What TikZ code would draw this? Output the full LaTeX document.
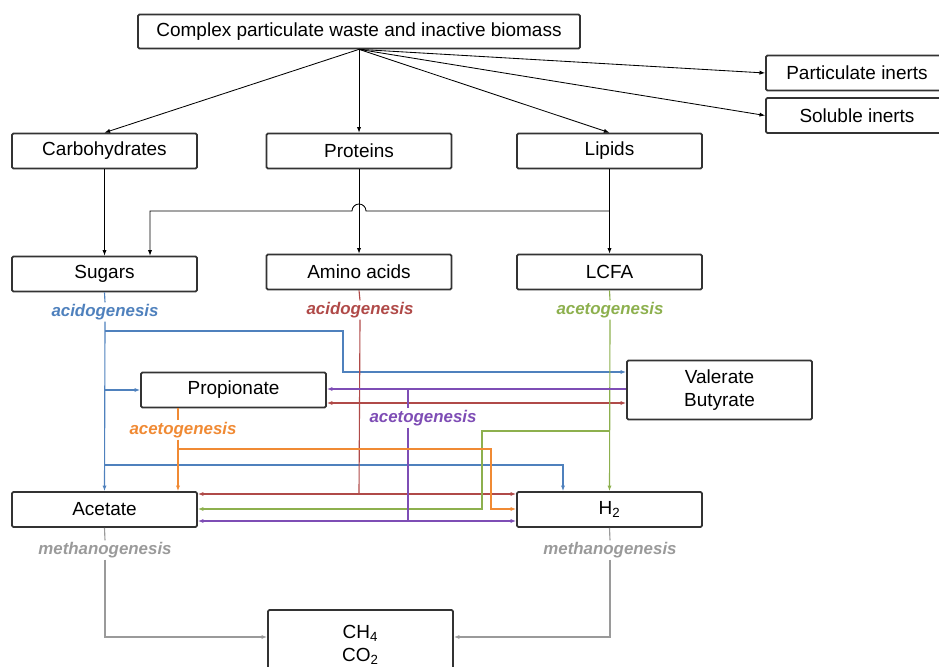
\documentclass[tikz,border=0pt]{standalone}
\usepackage{fontspec}
\setmainfont{Liberation Sans}
\usetikzlibrary{arrows.meta,positioning,calc}

\definecolor{cblue}{HTML}{4F81BD}
\definecolor{cred}{HTML}{B04A48}
\definecolor{cgreen}{HTML}{8DB04E}
\definecolor{corange}{HTML}{F08A34}
\definecolor{cpurple}{HTML}{7E4DB5}
\definecolor{cgray}{HTML}{9A9A9A}

\begin{document}
\begin{tikzpicture}[x=0.025cm, y=-0.025cm,
    box/.style = {draw = black!80, line width = 1.2pt, rounded corners = 1pt, fill = white,
                  minimum width = 4.625cm, minimum height = 0.875cm,
                  inner sep = 2pt, font = \fontsize{13.5}{16}\selectfont},
    blk/.style = {-{Latex[length=4pt,width=3pt]}, line width = 0.6pt},
    flow/.style = {-{Latex[length=4pt,width=3pt]}},
    lbl/.style = {inner sep = 1pt, font = \fontsize{12}{14}\selectfont\bfseries\itshape}]

        \useasboundingbox (0,0) rectangle (939,666);

        % Boxes
        \node[box, minimum width = 11.05cm, minimum height = 0.85cm] (cpw) at (359,31.5) {Complex particulate waste and inactive biomass};
        \node[box, minimum width = 4.55cm] (pinert) at (857,73) {Particulate inerts};
        \node[box, minimum width = 4.55cm] (sinert) at (857,115.5) {Soluble inerts};
        \node[box] (carb) at (104.5,151) {Carbohydrates};
        \node[box] (prot) at (359,151) {Proteins};
        \node[box] (lip) at (609.5,151) {Lipids};
        \node[box] (sug) at (104.5,274) {Sugars};
        \node[box] (amino) at (359,272) {Amino acids};
        \node[box] (lcfa) at (609.5,272) {LCFA};
        \node[box] (prop) at (233.5,390) {Propionate};
        \node[box, minimum height = 1.475cm, align = center] (valbut) at (719.5,390) {Valerate\\Butyrate};
        \node[box] (acet) at (104.5,509.5) {Acetate};
        \node[box] (htwo) at (609.5,509.5) {H\textsubscript{2}};
        \node[box, minimum height = 1.75cm, align = center] (gas) at (360.5,645) {CH\textsubscript{4}\\CO\textsubscript{2}};

        % Process labels
        \node[lbl, text = cblue] (acidsug) at (105,312) {acidogenesis};
        \node[lbl, text = cred] (acidam) at (360,310) {acidogenesis};
        \node[lbl, text = cgreen] (acetlcfa) at (610,310) {acetogenesis};
        \node[lbl, text = corange] (acetprop) at (183,430) {acetogenesis};
        \node[lbl, text = cpurple] (acetvb) at (423,418) {acetogenesis};
        \node[lbl, text = cgray] (methac) at (105,550) {methanogenesis};
        \node[lbl, text = cgray] (methh) at (610,550) {methanogenesis};

        % Disintegration and hydrolysis
        \draw[blk] (cpw.south) -- (carb.north);
        \draw[blk] (cpw.south) -- (prot.north);
        \draw[blk] (cpw.south) -- (lip.north);
        \draw[blk] (cpw.south) -- (pinert.west);
        \draw[blk] (cpw.south) -- (sinert.west);
        \draw[blk] (carb.south) -- (sug.north);
        \draw[blk] (prot.south) -- (amino.north);
        \draw[blk] (lip.south) -- (lcfa.north);
        \draw[blk] (lip.south |- 0,211) -- (366,211) arc[start angle = 0, end angle = 180, radius = 0.175cm]
            -- (150,211) -- (150,0 |- sug.north);

        % Sugars
        \draw[cblue, line width = 0.8pt] (sug.south) -- (acidsug.north);
        \draw[cblue, line width = 0.8pt, flow] (acidsug.south) -- (acet.north);
        \draw[cblue, line width = 0.8pt, flow] (acidsug.south |- 0,331) -- (343,331) -- (343,372) -- (valbut.west |- 0,372);
        \draw[cblue, line width = 0.8pt, flow] (acidsug.south |- prop.west) -- (prop.west);
        \draw[cblue, line width = 0.8pt, flow] (acidsug.south |- 0,465) -- (563,465) -- (563,0 |- htwo.north);

        % Amino acids
        \draw[cred, line width = 0.8pt] (amino.south) -- (acidam.north);
        \draw[cred, line width = 0.8pt] (acidam.south) -- (amino.south |- 0,494);
        \draw[cred, line width = 0.8pt, flow] (amino.south |- 0,494) -- (acet.east |- 0,494);
        \draw[cred, line width = 0.8pt, flow] (amino.south |- 0,494) -- (htwo.west |- 0,494);
        \draw[cred, line width = 0.8pt, {Latex[length=4pt,width=3pt]}-{Latex[length=4pt,width=3pt]}] (prop.east |- 0,403) -- (valbut.west |- 0,403);

        % LCFA
        \draw[cgreen, line width = 0.8pt] (lcfa.south) -- (acetlcfa.north);
        \draw[cgreen, line width = 0.8pt, flow] (acetlcfa.south) -- (htwo.north);
        \draw[cgreen, line width = 0.8pt, flow] (lcfa.south |- 0,431) -- (482,431) -- (482,509) -- (acet.east |- 0,509);

        % Valerate and butyrate
        \draw[cpurple, line width = 0.8pt, flow] (valbut.west |- 0,389) -- (prop.east |- 0,389);
        \draw[cpurple, line width = 0.8pt] (408,389) -- (408,0 |- acetvb.north);
        \draw[cpurple, line width = 0.8pt] (408,0 |- acetvb.south) -- (408,521);
        \draw[cpurple, line width = 0.8pt, flow] (408,521) -- (acet.east |- 0,521);
        \draw[cpurple, line width = 0.8pt, flow] (408,521) -- (htwo.west |- 0,521);

        % Propionate
        \draw[corange, line width = 1pt] (178,0 |- prop.south) -- (178,0 |- acetprop.north);
        \draw[corange, line width = 1pt, flow] (178,0 |- acetprop.south) -- (178,0 |- acet.north);
        \draw[corange, line width = 1pt, flow] (178,449) -- (491,449) -- (491,509) -- (htwo.west |- 0,509);

        % Methanogenesis
        \draw[cgray, line width = 0.8pt] (acet.south) -- (methac.north);
        \draw[cgray, line width = 0.8pt, flow] (methac.south) |- (gas.west |- 0,637);
        \draw[cgray, line width = 0.8pt] (htwo.south) -- (methh.north);
        \draw[cgray, line width = 0.8pt, flow] (methh.south) |- (gas.east |- 0,637);
    \end{tikzpicture}
\end{document}
